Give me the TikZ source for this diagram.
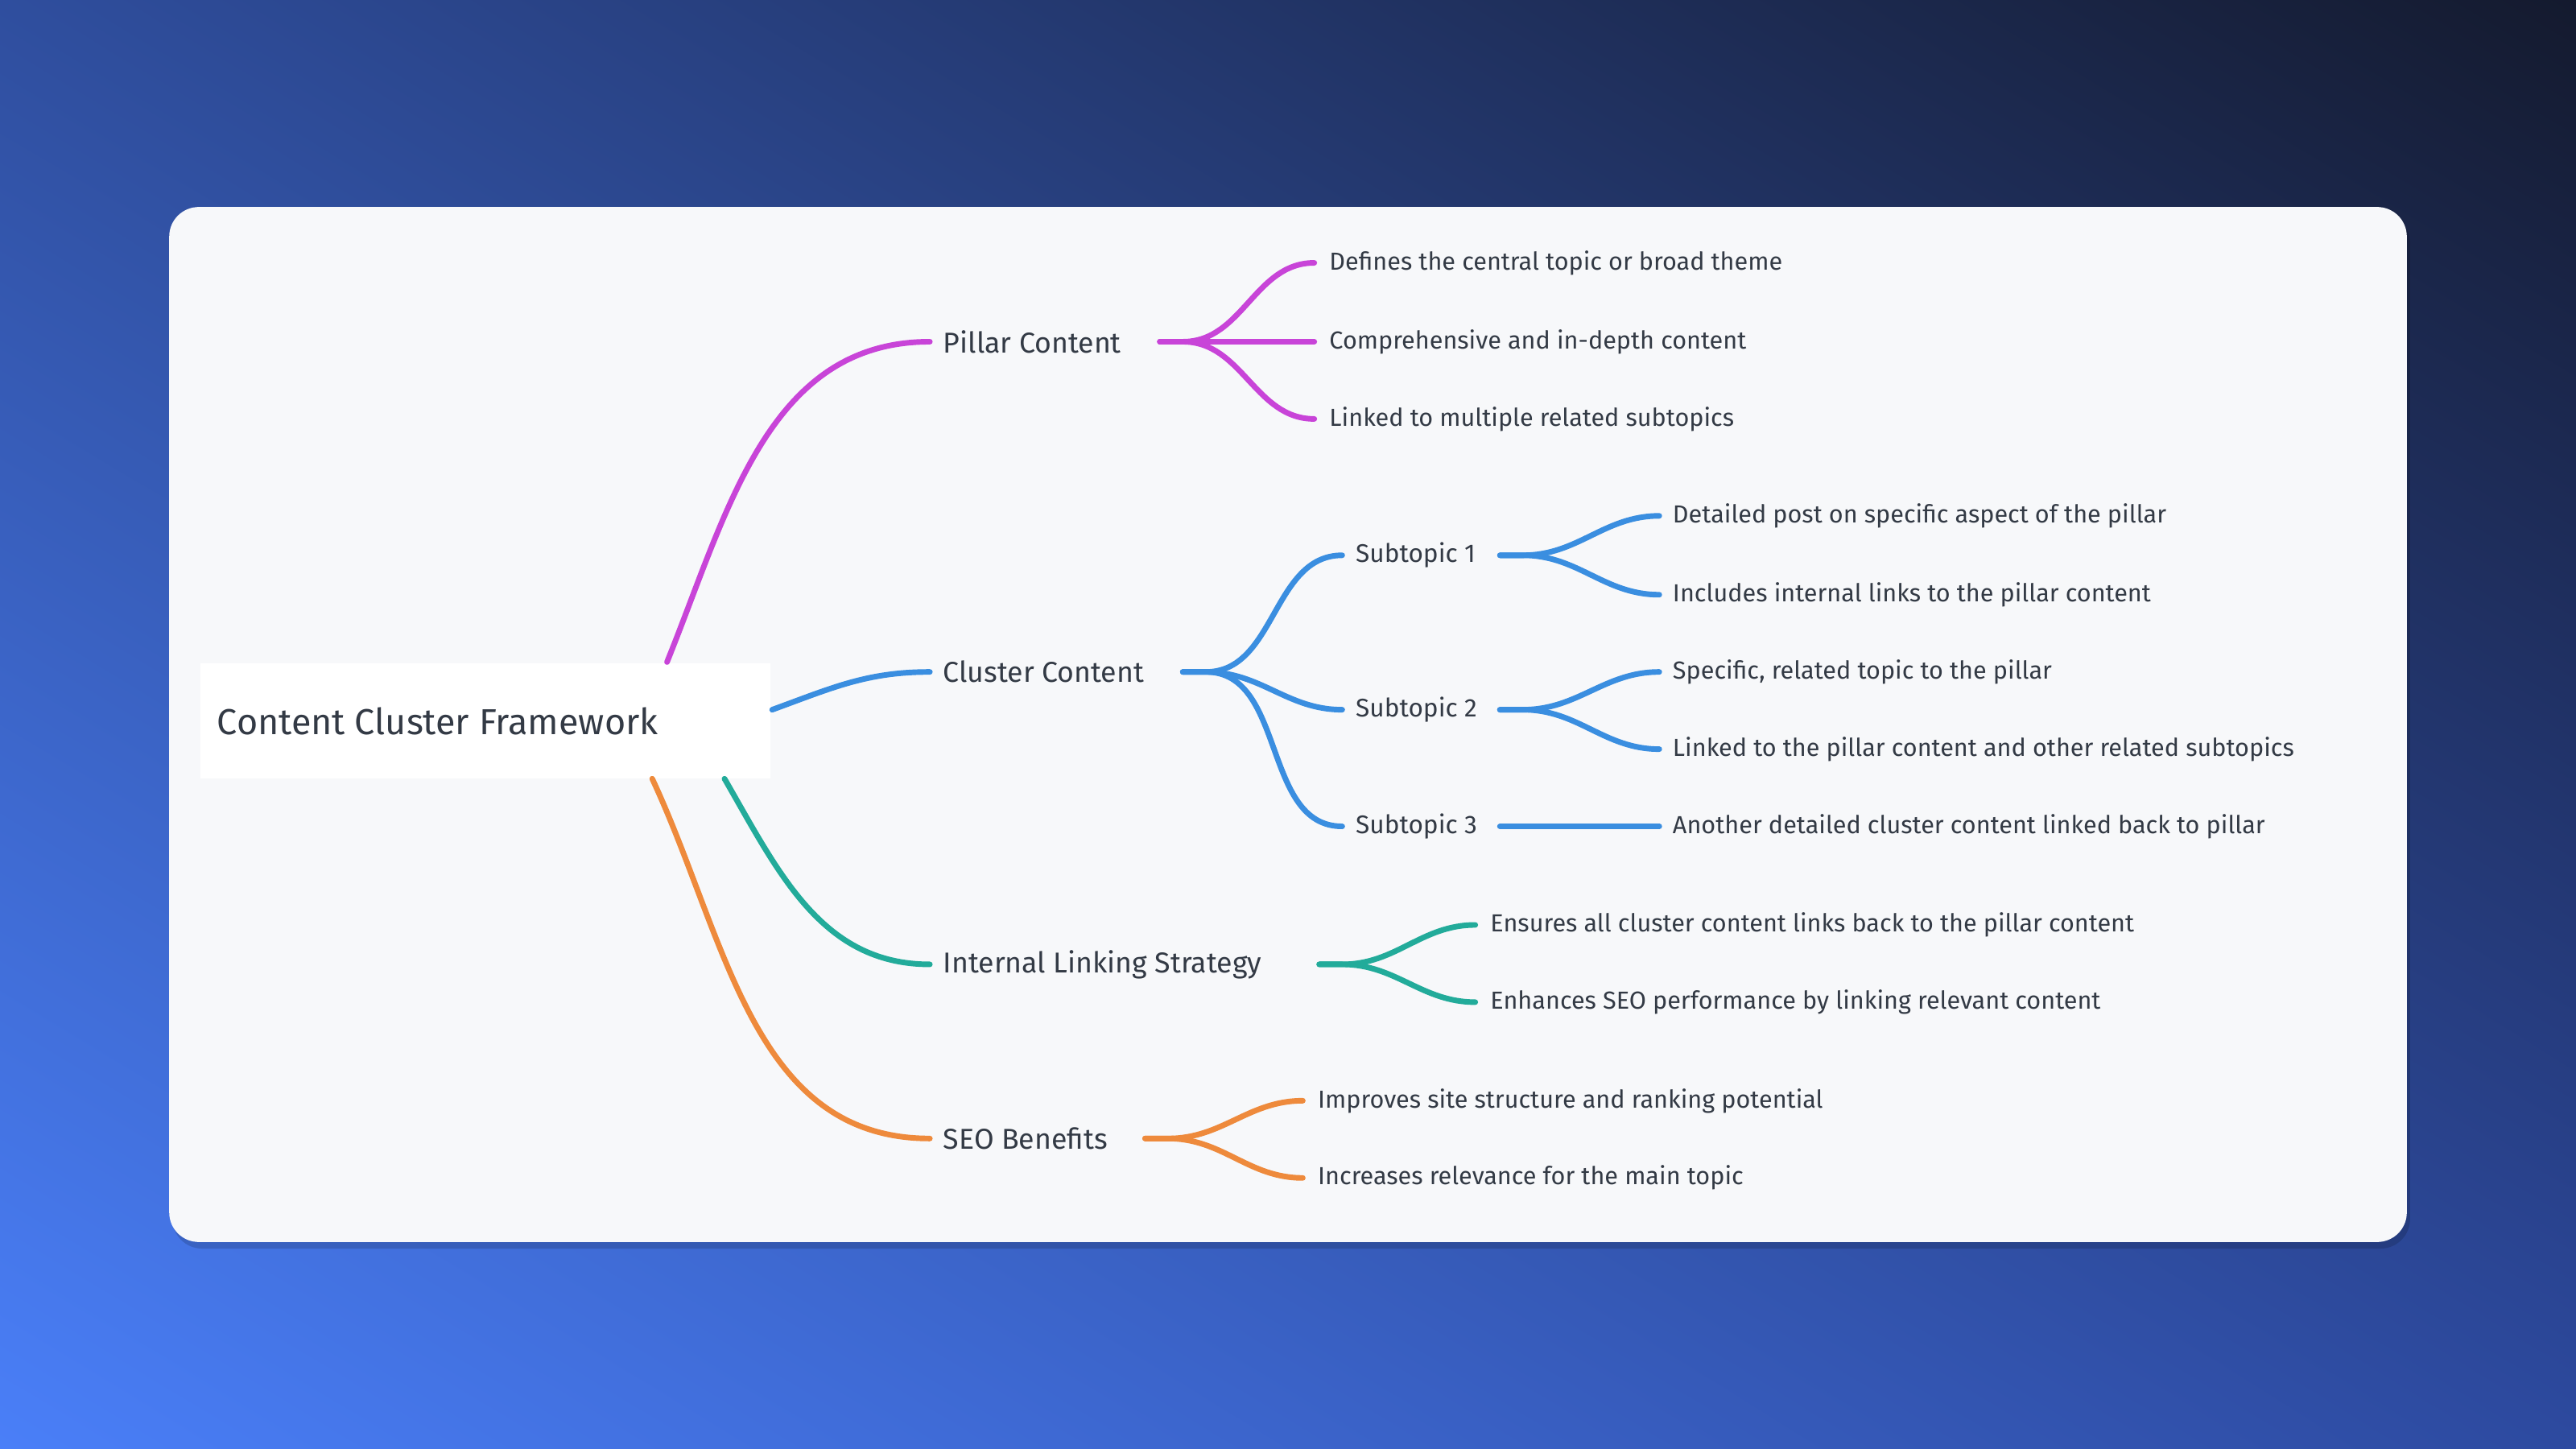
\documentclass[tikz,border=0pt]{standalone}
\usepackage{fontspec}
\setmainfont{Fira Sans}
\usetikzlibrary{shadings}
\definecolor{pur}{HTML}{C844D8}
\definecolor{blu}{HTML}{3A8EE0}
\definecolor{tea}{HTML}{22AB9A}
\definecolor{ora}{HTML}{EE8A3C}
\definecolor{txt}{HTML}{333A45}
\definecolor{card}{HTML}{F7F8FA}
\definecolor{bgul}{HTML}{2F4E9E}
\definecolor{bgur}{HTML}{141A2E}
\definecolor{bgll}{HTML}{4A7FF8}
\definecolor{bglr}{HTML}{2D4AA0}
\begin{document}
\begin{tikzpicture}[x=1pt,y=-1pt,
  main/.style={anchor=west,inner sep=0pt,text=txt,font=\fontsize{17.5}{20}\selectfont},
  sub/.style={anchor=west,inner sep=0pt,text=txt,font=\fontsize{15.5}{18}\selectfont},
  leaf/.style={anchor=west,inner sep=0pt,text=txt,font=\fontsize{15}{18}\selectfont},
  br/.style={line width=3.4pt,line cap=round}]
\useasboundingbox (0,0) rectangle (1568,882);
\shade[upper left=bgul,upper right=bgur,lower left=bgll,lower right=bglr]
 (0,0) rectangle (1568,882);
\fill[black,opacity=0.15,rounded corners=18pt] (105,130) rectangle (1467,760);
\fill[card,rounded corners=18pt] (103,126) rectangle (1465,756);
\fill[white] (122,404) rectangle (469,474);
\node[anchor=west,inner sep=0pt,text=txt,font=\fontsize{22}{26}\selectfont] (root) at (132,439) {Content Cluster Framework};
\coordinate (r1) at (406,403); \coordinate (r2) at (470,432);
\coordinate (r3) at (441,474); \coordinate (r4) at (397,474);
% main nodes
\node[main] (p) at (574,208) {Pillar Content};
\node[main] (c) at (574,409) {Cluster Content};
\node[main] (i) at (574,587) {Internal Linking Strategy};
\node[main] (s) at (574,693) {SEO Benefits};
\coordinate (pw) at (566,208); \coordinate (cw) at (566,409);
\coordinate (iw) at (566,587); \coordinate (sw) at (566,693);
\draw[br,pur] (r1) to[out=68,in=180] (pw);
\draw[br,blu] (r2) to[out=20,in=180] (cw);
\draw[br,tea] (r3) to[out=-60,in=180] (iw);
\draw[br,ora] (r4) to[out=-65,in=180] (sw);
% pillar leaves
\node[leaf] (p1) at (809,160) {Defines the central topic or broad theme};
\node[leaf] (p2) at (809,208) {Comprehensive and in-depth content};
\node[leaf] (p3) at (809,255) {Linked to multiple related subtopics};
\coordinate (ps) at (706,208);
\foreach \n in {p1,p2,p3} \draw[br,pur] (ps) -- ++(14,0) to[out=0,in=180] ([xshift=-9pt]\n.west);
% cluster
\node[sub] (c1) at (825,338) {Subtopic 1};
\node[sub] (c2) at (825,432) {Subtopic 2};
\node[sub] (c3) at (825,503) {Subtopic 3};
\coordinate (cs) at (720,409);
\foreach \n in {c1,c2,c3} \draw[br,blu] (cs) -- ++(14,0) to[out=0,in=180] ([xshift=-8pt]\n.west);
\node[leaf] (c11) at (1018,314) {Detailed post on specific aspect of the pillar};
\node[leaf] (c12) at (1018,362) {Includes internal links to the pillar content};
\node[leaf] (c21) at (1018,409) {Specific, related topic to the pillar};
\node[leaf] (c22) at (1018,456) {Linked to the pillar content and other related subtopics};
\node[leaf] (c31) at (1018,503) {Another detailed cluster content linked back to pillar};
\coordinate (c1s) at (913,338); \coordinate (c2s) at (913,432); \coordinate (c3s) at (913,503);
\foreach \n in {c11,c12} \draw[br,blu] (c1s) -- ++(14,0) to[out=0,in=180] ([xshift=-8pt]\n.west);
\foreach \n in {c21,c22} \draw[br,blu] (c2s) -- ++(14,0) to[out=0,in=180] ([xshift=-8pt]\n.west);
\draw[br,blu] (c3s) -- ([xshift=-8pt]c31.west);
% internal
\node[leaf] (i1) at (907,563) {Ensures all cluster content links back to the pillar content};
\node[leaf] (i2) at (907,610) {Enhances SEO performance by linking relevant content};
\coordinate (is) at (803,587);
\foreach \n in {i1,i2} \draw[br,tea] (is) -- ++(14,0) to[out=0,in=180] ([xshift=-9pt]\n.west);
% seo
\node[leaf] (s1) at (802,670) {Improves site structure and ranking potential};
\node[leaf] (s2) at (802,717) {Increases relevance for the main topic};
\coordinate (ss) at (697,693);
\foreach \n in {s1,s2} \draw[br,ora] (ss) -- ++(14,0) to[out=0,in=180] ([xshift=-9pt]\n.west);
\end{tikzpicture}
\end{document}
